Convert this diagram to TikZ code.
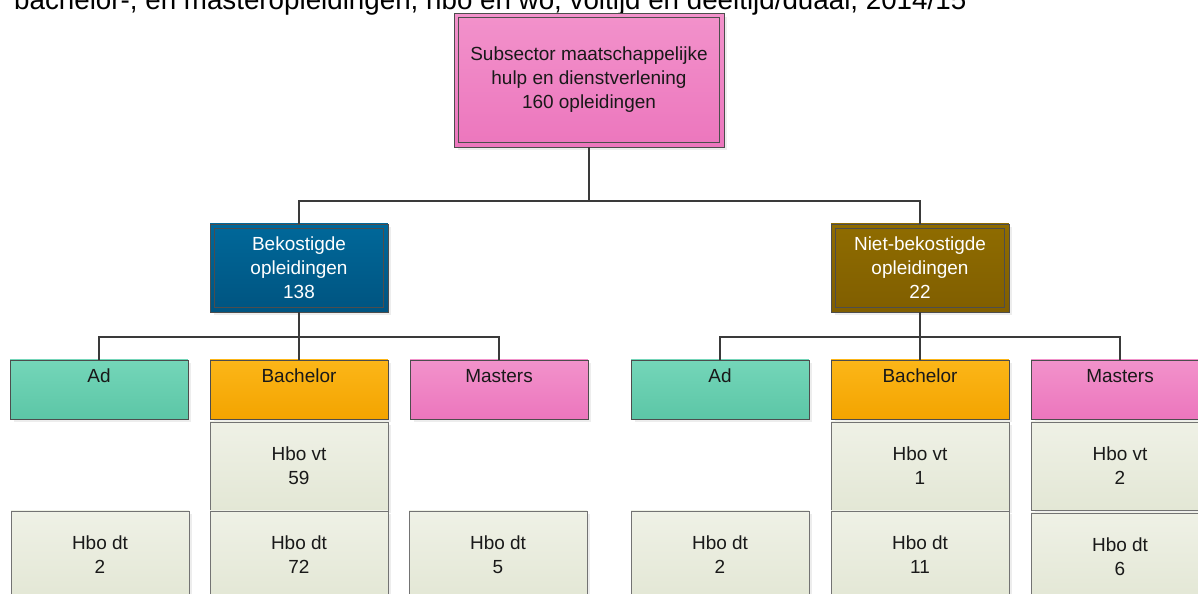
\documentclass[tikz,border=0pt]{standalone}
\usepackage{fontspec}
\setmainfont{Liberation Sans}
\usetikzlibrary{shadows}

\definecolor{pinktop}{RGB}{242,146,203}
\definecolor{pinkbot}{RGB}{236,118,189}
\definecolor{bluetop}{RGB}{0,104,154}
\definecolor{bluebot}{RGB}{0,84,128}
\definecolor{browntop}{RGB}{143,108,0}
\definecolor{brownbot}{RGB}{128,94,0}
\definecolor{tealtop}{RGB}{116,214,185}
\definecolor{tealbot}{RGB}{92,198,166}
\definecolor{orangetop}{RGB}{252,182,24}
\definecolor{orangebot}{RGB}{243,164,0}
\definecolor{leaftop}{RGB}{239,241,230}
\definecolor{leafbot}{RGB}{227,231,213}
\definecolor{edgegray}{RGB}{77,77,77}
\definecolor{linegray}{RGB}{58,58,58}

\tikzset{
  every node/.style={font=\fontsize{10.8}{13.6}\selectfont, align=center},
  box/.style={draw=edgegray, line width=0.5pt,
    drop shadow={shadow xshift=0.07cm, shadow yshift=-0.07cm, fill=black!14}},
  topbox/.style={box, inner sep=0pt,
    minimum width=5.4cm, minimum height=2.68cm,
    top color=pinktop, bottom color=pinkbot, text=black!90},
  groupbox/.style={box, inner sep=0pt,
    minimum width=3.56cm, minimum height=1.76cm,
    top color=#1top, bottom color=#1bot, text=white},
  innerframe/.style={draw=edgegray, line width=0.5pt},
  catbox/.style={box, inner sep=0pt, text width=3.56cm,
    text height=0.46cm, text depth=0.72cm,
    top color=#1top, bottom color=#1bot, text=black!90},
  leafbox/.style={box, draw=black!55, inner sep=0pt,
    minimum width=3.56cm, minimum height=1.76cm,
    top color=leaftop, bottom color=leafbot, text=black!90},
  conn/.style={draw=linegray, line width=1.1pt}
}

\begin{document}
\begin{tikzpicture}[x=0.02cm, y=0.02cm]
\useasboundingbox (0,0) rectangle (1198,594);

\node (title) at (8,584) [anchor=base west, font=\fontsize{15.8}{19}\selectfont]
    {bachelor-, en masteropleidingen, hbo en wo, voltijd en deeltijd/duaal, 2014/15};

\node (sector) at (589,514) [topbox]
    {Subsector maatschappelijke\\hulp en dienstverlening\\160 opleidingen};
\node (bek) at (299,326) [groupbox=blue] {Bekostigde\\opleidingen\\138};
\node (niet) at (920,326) [groupbox=brown] {Niet-bekostigde\\opleidingen\\22};

% inner lines of the double frames
\foreach \outer in {sector,bek,niet}
    \draw[innerframe] ([shift={(5,-5)}]\outer.north west) rectangle ([shift={(-5,5)}]\outer.south east);

\coordinate (sector-join) at (589,393);
\path[conn]
    (sector.south) -- (sector-join) -| (bek.north)
    (sector-join) -| (niet.north);

\foreach \grp/\gx in {bek/299,niet/920} {%
    \coordinate (\grp-join) at (\gx,257);
    \node (ad\grp) at (\gx-200,204.5) [catbox=teal] {Ad};
    \node (bach\grp) at (\gx,204.5) [catbox=orange] {Bachelor};
    \node (mast\grp) at (\gx+200,204.5) [catbox=pink] {Masters};
    \path[conn]
        (\grp.south) -- (\grp-join) -| (ad\grp.north)
        (\grp-join) -| (mast\grp.north)
        (\grp-join) -- (bach\grp.north);
}

% leaves: name / x / y / kind / count
\foreach \leaf/\lx/\ly/\kind/\num in {vtbachbek/299/128/vt/59, dtbachbek/299/39/dt/72,
        dtadbek/100/39/dt/2, dtmastbek/498/39/dt/5, dtadniet/720/39/dt/2,
        vtbachniet/920/128/vt/1, dtbachniet/920/39/dt/11,
        vtmastniet/1120/128/vt/2, dtmastniet/1120/37/dt/6} {%
    \node (\leaf) at (\lx,\ly) [leafbox] {Hbo \kind\\\num};
}
\end{tikzpicture}
\end{document}
